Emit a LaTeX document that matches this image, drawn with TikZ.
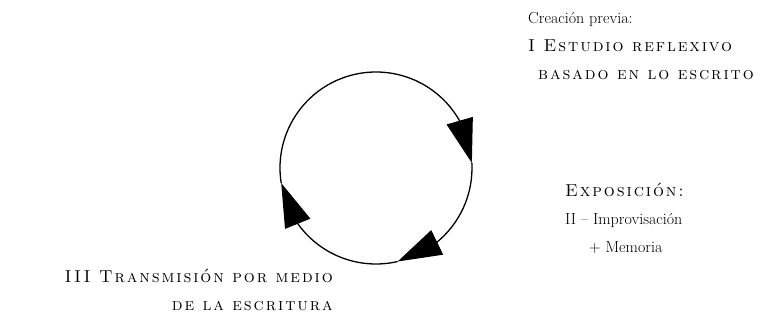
\documentclass[tikz,border=0pt]{standalone}
\usepackage{fontspec}
\newfontfamily\capsfont[LetterSpace=11,Scale=1.08]{lmromancaps10-regular.otf}
\usetikzlibrary{arrows.meta,bending,positioning}
\begin{document}
\begin{tikzpicture}[x=1pt,y=1pt,
  main node/.style={circle, minimum size=192pt, inner sep=0pt, outer sep=0pt},
  cycle arrow/.style={line width=1.3pt, -{Triangle[length=44pt,width=27pt]}}]
        \tikzstyle{every node}=[font=\fontsize{16}{28}\selectfont, inner sep=0pt]
        \useasboundingbox (0,0) rectangle (764,324);

          \node[main node] (0) at (376,156) {};
          \node[anchor=base west, align=left] (1) at (528,244)
            {Creación previa:\\ {\capsfont I Estudio reflexivo}\\ \hspace*{10pt}{\capsfont basado en lo escrito}};
          \node[anchor=base west, align=left] (2) at (565,71)
            {{\capsfont Exposición:}\\ II – Improvisación\\ \hspace*{24pt}+ Memoria};
          \node[anchor=base east, align=right] (3) at (333,13)
            {{\capsfont III Transmisión por medio}\\ {\capsfont de la escritura}};

          % the cycle, clockwise
          \draw[cycle arrow] (0.189) arc[start angle=189, end angle=3, radius=96];
          \draw[cycle arrow] (0.3) arc[start angle=3, end angle=-77, radius=96];
          \draw[cycle arrow] (0.-77) arc[start angle=-77, end angle=-171, radius=96];

        \end{tikzpicture}
\end{document}
